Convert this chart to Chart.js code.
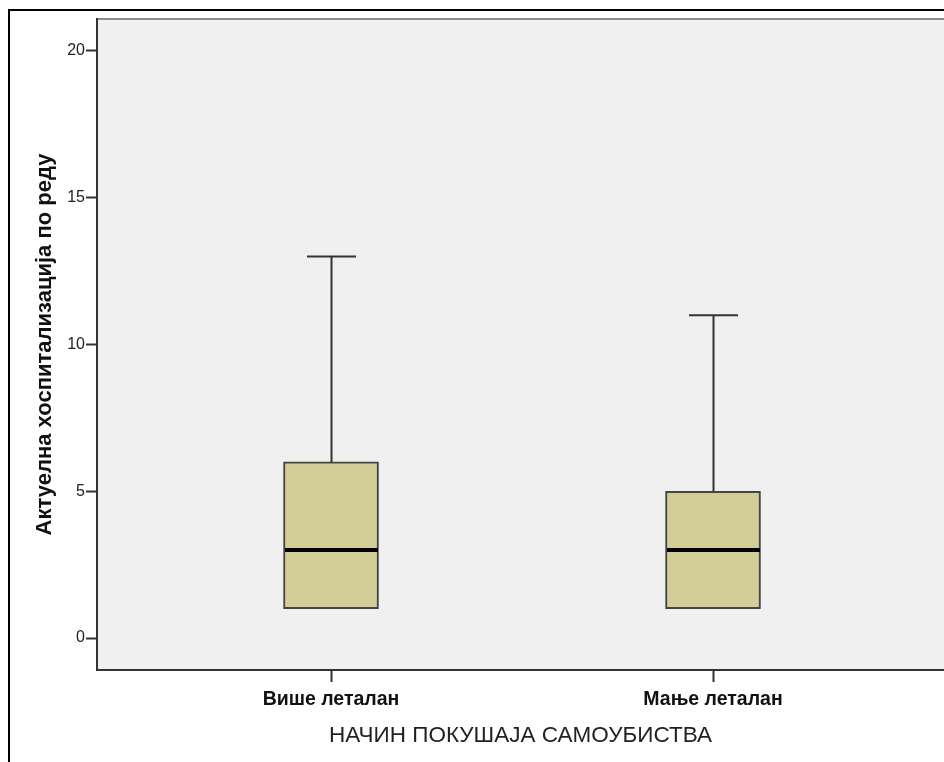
<!DOCTYPE html>
<html>
<head>
<meta charset="utf-8">
<script src="https://cdn.jsdelivr.net/npm/chart.js@4.4.1/dist/chart.umd.min.js"></script>
<style>
  html, body { margin: 0; padding: 0; background: #fff; }
  #wrap { width: 944px; height: 762px; }
</style>
</head>
<body>
<div id="wrap"><canvas id="box" width="944" height="762"></canvas></div>
<script>
// box plot values
const categories = ['Више леталан', 'Мање леталан'];
const whiskerLow = [1, 1];
const q1 = [1, 1];
const median = [3, 3];
const q3 = [6, 5];
const whiskerHigh = [13, 11];
const yTickStep = 5;

const xTitle = 'НАЧИН ПОКУШАЈА САМОУБИСТВА';
const yTitle = 'Актуелна хоспитализација по реду';

const FONT = "'Liberation Sans', Arial, sans-serif";
const LINE = '#333';

// frame + plot background
const frame = {
    id: 'frame',
    beforeDraw(chart) {
        const { ctx, chartArea: a } = chart;
        ctx.save();
        ctx.fillStyle = '#f0f0f0';
        ctx.fillRect(a.left, a.top, a.right - a.left, a.bottom - a.top);
        ctx.strokeStyle = '#8a8a8a';
        ctx.lineWidth = 2;
        ctx.beginPath();
        ctx.moveTo(a.left, a.top);
        ctx.lineTo(a.right, a.top);
        ctx.stroke();
        ctx.strokeStyle = '#000';
        ctx.lineWidth = 2;
        ctx.beginPath();
        ctx.moveTo(9, chart.height);
        ctx.lineTo(9, 10);
        ctx.lineTo(chart.width, 10);
        ctx.stroke();
        ctx.restore();
    }
};

// whiskers, caps and medians
const whiskers = {
    id: 'whiskers',
    afterDatasetsDraw(chart) {
        const { ctx, scales: { x, y } } = chart;
        const capHalf = 24.5, boxHalf = 47.5;
        ctx.save();
        categories.forEach((_, i) => {
            const cx = Math.round(x.getPixelForValue(i)) + 0.5;
            ctx.strokeStyle = LINE;
            ctx.lineWidth = 2;
            ctx.beginPath();
            ctx.moveTo(cx, y.getPixelForValue(q3[i]));
            ctx.lineTo(cx, y.getPixelForValue(whiskerHigh[i]));
            ctx.moveTo(cx, y.getPixelForValue(q1[i]));
            ctx.lineTo(cx, y.getPixelForValue(whiskerLow[i]));
            ctx.moveTo(cx - capHalf, y.getPixelForValue(whiskerHigh[i]));
            ctx.lineTo(cx + capHalf, y.getPixelForValue(whiskerHigh[i]));
            if (whiskerLow[i] < q1[i]) {
                ctx.moveTo(cx - capHalf, y.getPixelForValue(whiskerLow[i]));
                ctx.lineTo(cx + capHalf, y.getPixelForValue(whiskerLow[i]));
            }
            ctx.stroke();
            ctx.strokeStyle = '#000';
            ctx.lineWidth = 4;
            ctx.beginPath();
            ctx.moveTo(cx - boxHalf + 1, y.getPixelForValue(median[i]));
            ctx.lineTo(cx + boxHalf - 1, y.getPixelForValue(median[i]));
            ctx.stroke();
        });
        ctx.restore();
    }
};

new Chart(document.getElementById('box'), {
    type: 'bar',
    data: {
        datasets: [{
            data: categories.map((_, i) => ({ x: i, y: [q1[i], q3[i]] })),
            backgroundColor: '#d3ce98',
            borderColor: '#444',
            borderWidth: 2,
            borderSkipped: false,
            barThickness: 95
        }]
    },
    options: {
        responsive: false,
        animation: false,
        layout: { padding: { top: 19, right: 0, bottom: 0, left: 0 } },
        plugins: { legend: { display: false }, tooltip: { enabled: false } },
        scales: {
            x: {
                type: 'linear',
                min: -0.6126,
                max: 1.6047,
                offset: false,
                afterFit: s => { s.height = 92; },
                grid: { offset: false, drawOnChartArea: false, drawTicks: true, tickLength: 12, tickColor: LINE, tickWidth: 2 },
                border: { color: LINE, width: 2 },
                ticks: {
                    stepSize: 1,
                    includeBounds: false,
                    padding: 6,
                    color: '#111',
                    font: { family: FONT, size: 19.5, weight: 'bold' },
                    maxRotation: 0,
                    autoSkip: false,
                    callback: v => categories[v] ?? ''
                },
                title: {
                    display: true,
                    text: xTitle,
                    color: '#222',
                    font: { family: FONT, size: 22.5 },
                    padding: { top: 0, bottom: 13 }
                }
            },
            y: {
                min: -1.09,
                max: 21.09,
                afterFit: s => { s.width = 97; },
                grid: { drawOnChartArea: false, drawTicks: true, tickLength: 11, tickColor: LINE, tickWidth: 2 },
                border: { color: LINE, width: 2 },
                ticks: {
                    stepSize: yTickStep,
                    includeBounds: false,
                    padding: 1,
                    color: '#222',
                    font: { family: FONT, size: 16 }
                },
                title: {
                    display: true,
                    text: yTitle,
                    color: '#111',
                    font: { family: FONT, size: 22, weight: 'bold' },
                    padding: { top: 32, bottom: 0 }
                }
            }
        }
    },
    plugins: [frame, whiskers]
});
</script>
</body>
</html>
